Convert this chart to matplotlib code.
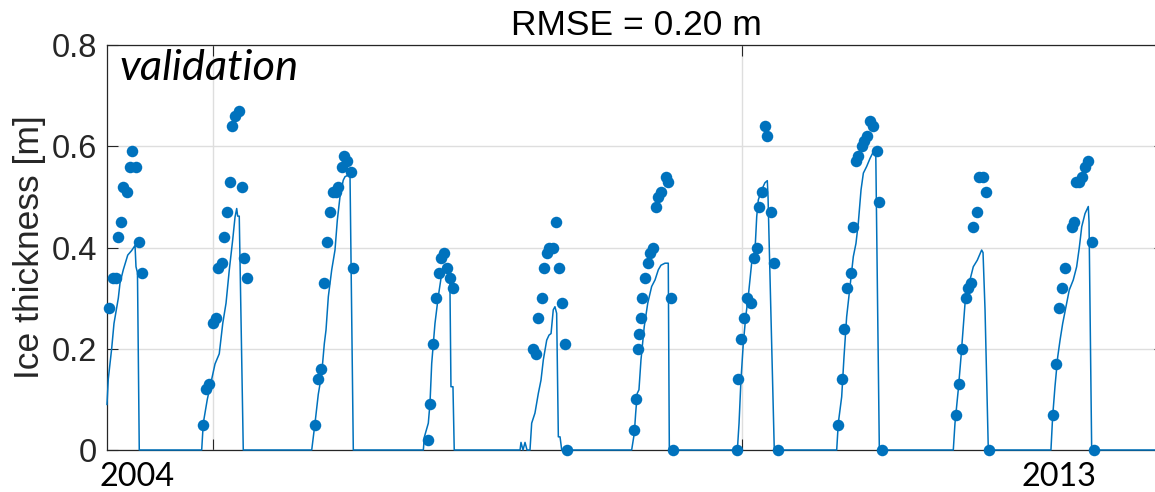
import matplotlib
matplotlib.use("Agg")
import matplotlib.pyplot as plt
from matplotlib.transforms import blended_transform_factory

# simulated ice thickness (line), decimal years / metres
model_year = [
    2004.000, 2004.012, 2004.044, 2004.066, 2004.107, 2004.123, 2004.154, 2004.196, 2004.233, 2004.265, 2004.274, 2004.288, 2004.305,
    2004.895, 2004.910, 2004.948, 2004.990, 2005.021, 2005.061, 2005.094, 2005.125, 2005.156, 2005.188, 2005.210, 2005.226, 2005.235, 2005.250, 2005.288,
    2005.935, 2005.966, 2005.997, 2006.029, 2006.054, 2006.070, 2006.092, 2006.124, 2006.155, 2006.177, 2006.202, 2006.233, 2006.250, 2006.281, 2006.297, 2006.328,
    2006.990, 2007.000, 2007.037, 2007.053, 2007.069, 2007.100, 2007.131, 2007.164, 2007.185, 2007.226, 2007.240, 2007.251, 2007.270, 2007.282,
    2007.904, 2007.913, 2007.932, 2007.951, 2007.970, 2007.998, 2008.014, 2008.045, 2008.077, 2008.102, 2008.124, 2008.156, 2008.178, 2008.197, 2008.218, 2008.234, 2008.250, 2008.266, 2008.282, 2008.298,
    2008.959, 2008.984, 2008.997, 2009.012, 2009.028, 2009.047, 2009.078, 2009.111, 2009.148, 2009.180, 2009.211, 2009.236, 2009.274, 2009.305, 2009.315,
    2009.958, 2009.974, 2009.992, 2010.014, 2010.037, 2010.061, 2010.093, 2010.125, 2010.141, 2010.156, 2010.188, 2010.219, 2010.241, 2010.248, 2010.307,
    2010.897, 2010.912, 2010.944, 2010.966, 2010.991, 2011.023, 2011.054, 2011.079, 2011.101, 2011.127, 2011.149, 2011.180, 2011.212, 2011.243, 2011.266, 2011.300,
    2011.999, 2012.015, 2012.046, 2012.072, 2012.094, 2012.110, 2012.135, 2012.164, 2012.188, 2012.226, 2012.267, 2012.280, 2012.299, 2012.330,
    2012.922, 2012.938, 2012.960, 2012.986, 2013.008, 2013.033, 2013.064, 2013.095, 2013.133, 2013.165, 2013.190, 2013.213, 2013.244, 2013.275, 2013.282, 2013.307,
    2014.000,
]
model_ice = [
    0.09, 0.14, 0.20, 0.25, 0.30, 0.33, 0.356, 0.385, 0.394, 0.404, 0.362, 0.35, 0.0,
    0.0, 0.053, 0.10, 0.14, 0.17, 0.19, 0.25, 0.29, 0.356, 0.415, 0.46, 0.477, 0.462, 0.462, 0.0,
    0.0, 0.053, 0.11, 0.15, 0.21, 0.237, 0.303, 0.356, 0.395, 0.454, 0.50, 0.533, 0.54, 0.543, 0.54, 0.0,
    0.0, 0.026, 0.053, 0.093, 0.171, 0.25, 0.303, 0.349, 0.359, 0.362, 0.355, 0.125, 0.125, 0.0,
    0.0, 0.015, 0.0, 0.015, 0.0, 0.0, 0.053, 0.073, 0.112, 0.138, 0.178, 0.217, 0.227, 0.23, 0.277, 0.283, 0.27, 0.026, 0.026, 0.0,
    0.0, 0.033, 0.073, 0.112, 0.119, 0.178, 0.244, 0.29, 0.323, 0.336, 0.356, 0.365, 0.369, 0.369, 0.0,
    0.0, 0.053, 0.138, 0.21, 0.263, 0.303, 0.369, 0.395, 0.461, 0.494, 0.514, 0.528, 0.532, 0.50, 0.0,
    0.0, 0.053, 0.105, 0.184, 0.263, 0.323, 0.382, 0.408, 0.448, 0.514, 0.547, 0.56, 0.576, 0.589, 0.591, 0.0,
    0.0, 0.053, 0.119, 0.184, 0.244, 0.29, 0.323, 0.342, 0.362, 0.375, 0.395, 0.39, 0.277, 0.0,
    0.0, 0.066, 0.125, 0.184, 0.217, 0.25, 0.283, 0.316, 0.336, 0.362, 0.40, 0.441, 0.467, 0.481, 0.45, 0.0,
    0.0,
]

# observed ice thickness (dots)
obs_year = [
    2004.022, 2004.060, 2004.085, 2004.107, 2004.132, 2004.154, 2004.186, 2004.217, 2004.239, 2004.274, 2004.302, 2004.328,
    2004.910, 2004.936, 2004.967, 2004.999, 2005.027, 2005.052, 2005.084, 2005.106, 2005.137, 2005.160, 2005.184, 2005.210, 2005.245, 2005.273, 2005.298, 2005.326,
    2005.966, 2005.991, 2006.023, 2006.054, 2006.076, 2006.108, 2006.139, 2006.162, 2006.186, 2006.218, 2006.240, 2006.271, 2006.303, 2006.328,
    2007.031, 2007.053, 2007.078, 2007.110, 2007.138, 2007.157, 2007.185, 2007.211, 2007.242, 2007.273,
    2008.029, 2008.055, 2008.077, 2008.109, 2008.133, 2008.156, 2008.178, 2008.218, 2008.241, 2008.272, 2008.303, 2008.329, 2008.345,
    2008.984, 2009.000, 2009.016, 2009.028, 2009.044, 2009.054, 2009.085, 2009.111, 2009.132, 2009.158, 2009.189, 2009.211, 2009.236, 2009.281, 2009.305, 2009.328, 2009.347,
    2009.958, 2009.967, 2009.992, 2010.024, 2010.052, 2010.084, 2010.115, 2010.141, 2010.160, 2010.191, 2010.219, 2010.241, 2010.276, 2010.304, 2010.345,
    2010.912, 2010.944, 2010.969, 2010.997, 2011.029, 2011.054, 2011.076, 2011.101, 2011.133, 2011.158, 2011.186, 2011.212, 2011.243, 2011.275, 2011.297, 2011.328,
    2012.025, 2012.053, 2012.084, 2012.116, 2012.141, 2012.164, 2012.188, 2012.220, 2012.245, 2012.283, 2012.308, 2012.336,
    2012.944, 2012.970, 2012.998, 2013.029, 2013.055, 2013.118, 2013.140, 2013.159, 2013.187, 2013.218, 2013.244, 2013.275, 2013.307, 2013.329,
]
obs_ice = [
    0.28, 0.34, 0.34, 0.42, 0.45, 0.52, 0.51, 0.56, 0.59, 0.56, 0.41, 0.35,
    0.05, 0.12, 0.13, 0.25, 0.26, 0.36, 0.37, 0.42, 0.47, 0.53, 0.64, 0.66, 0.67, 0.52, 0.38, 0.34,
    0.05, 0.14, 0.16, 0.33, 0.41, 0.47, 0.51, 0.51, 0.52, 0.56, 0.58, 0.57, 0.55, 0.36,
    0.02, 0.09, 0.21, 0.30, 0.35, 0.38, 0.39, 0.36, 0.34, 0.32,
    0.20, 0.19, 0.26, 0.30, 0.36, 0.39, 0.40, 0.40, 0.45, 0.36, 0.29, 0.21, 0.0,
    0.04, 0.10, 0.20, 0.23, 0.26, 0.30, 0.34, 0.37, 0.39, 0.40, 0.48, 0.50, 0.51, 0.54, 0.53, 0.30, 0.0,
    0.0, 0.14, 0.22, 0.26, 0.30, 0.29, 0.38, 0.40, 0.48, 0.51, 0.64, 0.62, 0.47, 0.37, 0.0,
    0.05, 0.14, 0.24, 0.32, 0.35, 0.44, 0.57, 0.58, 0.60, 0.61, 0.62, 0.65, 0.64, 0.59, 0.49, 0.0,
    0.07, 0.13, 0.20, 0.30, 0.32, 0.33, 0.44, 0.47, 0.54, 0.54, 0.51, 0.0,
    0.07, 0.17, 0.28, 0.32, 0.36, 0.44, 0.45, 0.53, 0.53, 0.54, 0.56, 0.57, 0.41, 0.0,
]

y_ticks = [0, 0.2, 0.4, 0.6, 0.8]
y_tick_labels = ["0", "0.2", "0.4", "0.6", "0.8"]
x_grid_years = [2005, 2010]
year_labels = ["2004", "2013"]
year_label_pos = [2004.28, 2013.0]

blue = "#0072BD"
dark = "#262626"

plt.rcParams["font.family"] = ["Liberation Sans", "DejaVu Sans"]

fig = plt.figure(figsize=(11.55, 4.92), dpi=100)
ax = fig.add_axes([107 / 1155, 42 / 492, 1058 / 1155, 405 / 492])

ax.plot(model_year, model_ice, color=blue, lw=1.1, zorder=3, clip_on=False)
ax.plot(obs_year, obs_ice, "o", color=blue, ms=8.3, mew=0, zorder=4, clip_on=False)

ax.set_xlim(2004, 2014)
ax.set_ylim(0, 0.8)
ax.set_xticks(x_grid_years)
ax.set_xticklabels([])
ax.set_yticks(y_ticks)
ax.set_yticklabels(y_tick_labels)

ax.grid(True, color="#dedede", lw=1.0, zorder=0)
ax.set_axisbelow(True)

for s in ax.spines.values():
    s.set_color(dark)
    s.set_linewidth(0.9)
ax.tick_params(direction="in", length=8, width=0.8, color=dark,
               top=True, right=True, labelsize=23.5, labelcolor=dark, pad=7)

ax.set_ylabel("Ice thickness [m]", fontsize=25.5, color=dark)
ax.yaxis.set_label_coords(-0.058, 0.5)
ax.set_title("RMSE = 0.20 m", fontsize=25.5, pad=7)

ax.text(0.012, 0.9136, "validation", transform=ax.transAxes, fontsize=31.3,
        style="italic", family="Lato", ha="left", va="baseline")

trans = blended_transform_factory(ax.transData, fig.transFigure)
for pos, lab in zip(year_label_pos, year_labels):
    ax.text(pos, 0.013, lab, transform=trans, fontsize=23.3, family="Lato",
            ha="center", va="baseline", clip_on=False)

fig.savefig("out.png", dpi=100)
